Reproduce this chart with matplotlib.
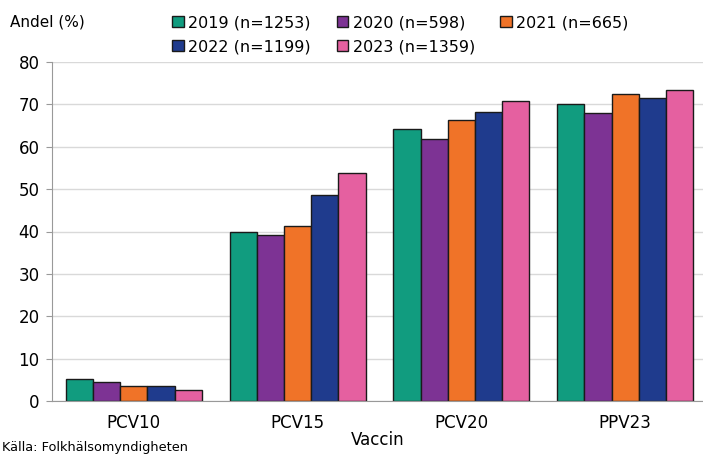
import matplotlib.pyplot as plt
import numpy as np

vacciner = ["PCV10", "PCV15", "PCV20", "PPV23"]
serier = ["2019 (n=1253)", "2020 (n=598)", "2021 (n=665)", "2022 (n=1199)", "2023 (n=1359)"]
v2019 = [5.3, 40.0, 64.2, 70.2]
v2020 = [4.4, 39.2, 61.8, 68.0]
v2021 = [3.5, 41.2, 66.3, 72.5]
v2022 = [3.6, 48.5, 68.2, 71.6]
v2023 = [2.7, 53.8, 70.8, 73.5]
farger = ["#119C7F", "#7D3394", "#F07328", "#1F3B8D", "#E560A0"]

fig = plt.figure(figsize=(7.03, 4.57), dpi=100)
ax = fig.add_axes([52 / 703, 56 / 457, 655 / 703, 339 / 457])

x = np.arange(len(vacciner))
width = 0.166
handles = []
for i, (namn, vals) in enumerate(zip(serier, [v2019, v2020, v2021, v2022, v2023])):
    b = ax.bar(x + (i - 2) * width, vals, width=width, color=farger[i],
               edgecolor="#1a1a1a", linewidth=1.0, label=namn, zorder=3)
    handles.append(b)

ax.set_xlim(-0.5, 3.5)
ax.set_ylim(0, 80)
ax.set_yticks(range(0, 81, 10))
ax.set_xticks(x)
ax.set_xticklabels(vacciner, fontsize=12)
ax.tick_params(axis="y", labelsize=12, length=4, color="#999999", pad=5)
ax.tick_params(axis="x", length=0, pad=9)
ax.grid(axis="y", color="#d9d9d9", linewidth=1.0, zorder=0)
ax.set_axisbelow(True)
for s in ["top", "right"]:
    ax.spines[s].set_visible(False)
for s in ["left", "bottom"]:
    ax.spines[s].set_color("#999999")
    ax.spines[s].set_zorder(4)

fig.text(10 / 703, 1 - 22 / 457, "Andel (%)", fontsize=11, va="center", ha="left")
fig.text(378 / 703, 1 - 440 / 457, "Vaccin", fontsize=12, va="center", ha="center")
fig.text(2 / 703, 1 - 448 / 457, "Källa: Folkhälsomyndigheten", fontsize=9.3, va="center", ha="left")

order = [0, 3, 1, 4, 2]
fig.legend([handles[i] for i in order], [serier[i] for i in order], ncol=3,
           loc="upper left", bbox_to_anchor=(166 / 703, 1 - 9 / 457), frameon=False,
           fontsize=11.5, handlelength=0.7, handleheight=0.7, handletextpad=0.3,
           columnspacing=1.6, labelspacing=0.55, borderaxespad=0)

fig.savefig("out.png", dpi=100)
